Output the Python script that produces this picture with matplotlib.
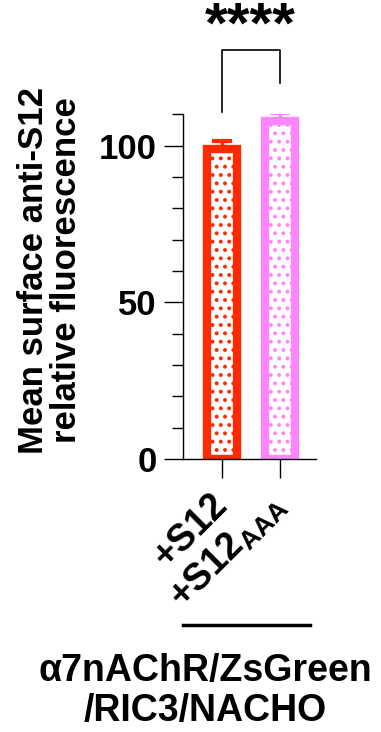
import matplotlib
matplotlib.use('Agg')
import matplotlib.pyplot as plt
from matplotlib.lines import Line2D
from matplotlib.ticker import MultipleLocator

plt.rcParams['font.family'] = ['Liberation Sans', 'DejaVu Sans']
plt.rcParams['font.weight'] = 'bold'
plt.rcParams['mathtext.fontset'] = 'custom'
plt.rcParams['mathtext.rm'] = 'Liberation Sans:bold'
plt.rcParams['hatch.linewidth'] = 1.6

# data
groups = ['+S12', '+S12$_{\\mathregular{AAA}}$']
means = [98.8, 107.9]
errs = [2.6, 2.4]
colors = ['#ff2a00', '#ff85ff']
y_label = 'Mean surface anti-S12\nrelative fluorescence'
x_group = '\u03b17nAChR/ZsGreen\n/RIC3/NACHO'
signif = '****'

fig = plt.figure(figsize=(3.81, 7.32), dpi=100)
ax = fig.add_axes([0.480, 0.373, 0.349, 0.471])

x = list(range(len(groups)))
for i in x:
    ax.bar(i, means[i], width=0.52, color='white', edgecolor=colors[i],
           linewidth=6, hatch='..', zorder=2)
    ax.errorbar(i, means[i], yerr=[[0], [errs[i]]], color=colors[i],
                capsize=7, capthick=3, elinewidth=2.5, zorder=1)

ax.set_xlim(-0.67, 1.62)
ax.set_ylim(0, 110)
ax.yaxis.set_major_locator(MultipleLocator(50))
ax.yaxis.set_minor_locator(MultipleLocator(10))
ax.spines['top'].set_visible(False)
ax.spines['right'].set_visible(False)
ax.spines['left'].set_linewidth(1.0)
ax.spines['bottom'].set_linewidth(1.0)
ax.tick_params(axis='y', which='major', length=14, width=1.0, labelsize=25, pad=5)
ax.tick_params(axis='y', which='minor', length=8, width=1.0)
ax.tick_params(axis='x', length=14, width=1.0, labelsize=27, pad=15)
ax.set_xticks(x)
ax.set_xticklabels(groups, rotation=45, ha='right', va='center', rotation_mode='anchor')
for lab in ax.get_yticklabels():
    lab.set_fontweight('bold')

# significance bracket
ax.plot([0, 0, 1, 1], [110.6, 130.4, 130.4, 119.9], color='black', lw=1.2, clip_on=False)
ax.text(0.5, 137.5, signif, ha='center', va='center', fontsize=42, fontweight='bold', clip_on=False)

fig.text(50 / 381, 1 - 270 / 732, y_label, rotation=90, ha='center', va='center',
         fontsize=25, fontweight='bold', multialignment='center', linespacing=1.0)

fig.add_artist(Line2D([183 / 381, 310 / 381], [1 - 625 / 732, 1 - 625 / 732],
                      color='black', lw=2.5))
fig.text(205 / 381, 1 - 691 / 732, x_group, ha='center', va='center', fontsize=27,
         fontweight='bold', linespacing=1.15)

fig.savefig('out.png', dpi=100)
